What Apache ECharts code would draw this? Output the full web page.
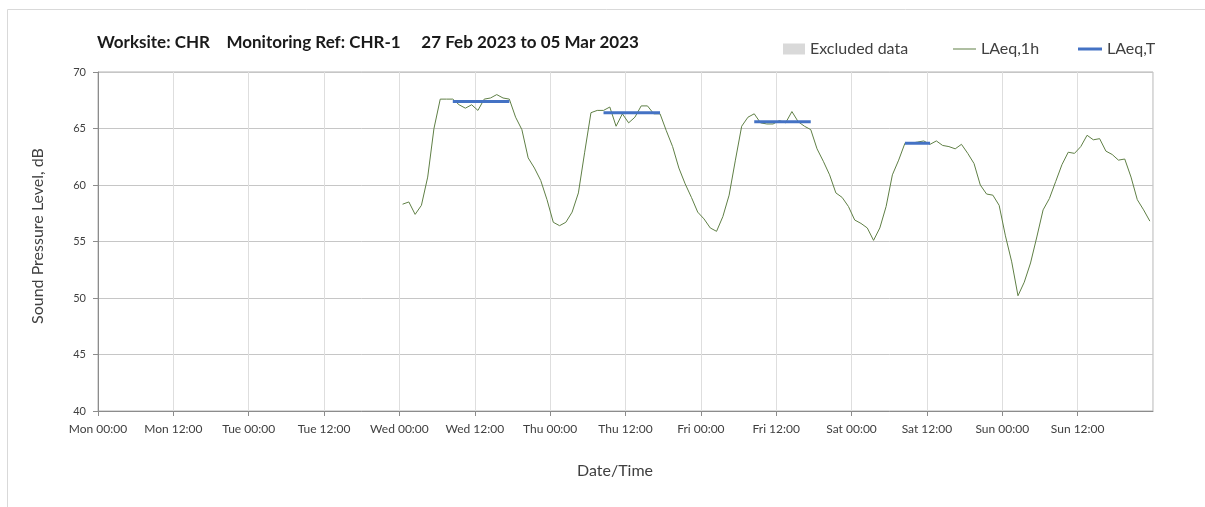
<!DOCTYPE html>
<html>
<head>
<meta charset="utf-8">
<script src="https://cdn.jsdelivr.net/npm/echarts@6/dist/echarts.min.js"></script>
<style>
  html, body { margin: 0; padding: 0; background: #fff; }
  #chart { width: 1205px; height: 507px; }
</style>
</head>
<body>
<div id="chart"></div>
<script>
  // hours counted from Mon 00:00, first hourly value sits at Wed 00:30
  var firstHour = 48.5
  var dayNames = ['Mon', 'Tue', 'Wed', 'Thu', 'Fri', 'Sat', 'Sun']
  var yTicks = [40, 45, 50, 55, 60, 65, 70]

  // LAeq,1h values (dB), one per hour
  var laeq1h = [
    58.3, 58.5, 57.4, 58.2, 60.7, 65.0, 67.6, 67.6, 67.6, 67.1, 66.8, 67.1,
    66.6, 67.6, 67.7, 68.0, 67.7, 67.6, 66.0, 64.9, 62.4, 61.5, 60.4, 58.7,
    56.7, 56.4, 56.7, 57.6, 59.3, 62.9, 66.4, 66.6, 66.6, 66.9, 65.2, 66.3,
    65.5, 66.0, 67.0, 67.0, 66.3, 66.3, 64.8, 63.4, 61.5, 60.1, 58.9, 57.6,
    57.0, 56.2, 55.9, 57.2, 59.1, 62.2, 65.2, 66.0, 66.3, 65.5, 65.4, 65.4,
    65.7, 65.5, 66.5, 65.6, 65.2, 64.9, 63.2, 62.1, 60.9, 59.3, 58.9, 58.1,
    56.9, 56.6, 56.2, 55.1, 56.2, 58.1, 60.9, 62.2, 63.7, 63.7, 63.8, 63.9,
    63.6, 63.9, 63.5, 63.4, 63.2, 63.6, 62.8, 61.9, 60.0, 59.2, 59.1, 58.2,
    55.5, 53.2, 50.2, 51.4, 53.1, 55.4, 57.8, 58.8, 60.3, 61.8, 62.9, 62.8,
    63.4, 64.4, 64.0, 64.1, 63.0, 62.7, 62.2, 62.3, 60.7, 58.7, 57.8, 56.8
  ]

  // LAeq,T periods: start hour, end hour, level
  var periodStart = [56.5, 80.5, 104.5, 128.5]
  var periodEnd = [65.5, 89.5, 113.5, 132.5]
  var periodLevel = [67.4, 66.4, 65.6, 63.7]

  var hourlyPoints = laeq1h.map(function (v, i) {
    return [firstHour + i, v]
  })

  var series = [
    {
      name: 'Excluded data',
      type: 'bar',
      data: [],
      itemStyle: { color: '#d9d9d9' }
    },
    {
      name: 'LAeq,1h',
      type: 'line',
      data: hourlyPoints,
      showSymbol: false,
      lineStyle: { color: '#5f7f45', width: 1 },
      itemStyle: { color: '#5f7f45' },
      z: 3
    }
  ]
  periodStart.forEach(function (s, i) {
    series.push({
      name: 'LAeq,T',
      type: 'line',
      data: [[s, periodLevel[i]], [periodEnd[i], periodLevel[i]]],
      showSymbol: false,
      lineStyle: { color: '#4472c4', width: 3 },
      itemStyle: { color: '#4472c4' },
      z: 4
    })
  })

  var font = 'Lato, "Open Sans", sans-serif'
  var chart = echarts.init(document.getElementById('chart'))
  chart.setOption({
    animation: false,
    textStyle: { fontFamily: font },
    graphic: [
      { type: 'line', shape: { x1: 7.5, y1: 9.5, x2: 1205, y2: 9.5 }, style: { stroke: '#d9d9d9', lineWidth: 1 } },
      { type: 'line', shape: { x1: 7.5, y1: 9.5, x2: 7.5, y2: 507 }, style: { stroke: '#d9d9d9', lineWidth: 1 } },
      {
        type: 'text', x: 97, y: 43,
        style: {
          text: 'Worksite: CHR    Monitoring Ref: CHR-1     27 Feb 2023 to 05 Mar 2023',
          font: 'bold 17px ' + font, fill: '#1a1a1a', verticalAlign: 'middle'
        }
      },
      {
        type: 'text', x: 38, y: 236, rotation: Math.PI / 2,
        style: {
          text: 'Sound Pressure Level, dB', font: '16px ' + font, fill: '#404040',
          align: 'center', verticalAlign: 'middle'
        }
      },
      {
        type: 'text', x: 615, y: 471,
        style: {
          text: 'Date/Time', font: '16px ' + font, fill: '#404040',
          align: 'center', verticalAlign: 'middle'
        }
      }
    ],
    legend: [
      {
        left: 778, top: 36, itemWidth: 22, itemHeight: 11, selectedMode: false,
        textStyle: { fontSize: 16, color: '#404040' },
        data: [{ name: 'Excluded data', icon: 'rect', itemStyle: { color: '#d9d9d9' } }]
      },
      {
        left: 948, top: 36, itemWidth: 23, itemHeight: 11, selectedMode: false,
        textStyle: { fontSize: 16, color: '#404040' },
        data: [{ name: 'LAeq,1h', icon: 'path://M0,5 L23,5 L23,6 L0,6 Z', itemStyle: { color: '#5f7f45' } }]
      },
      {
        left: 1073, top: 36, itemWidth: 24, itemHeight: 11, selectedMode: false,
        textStyle: { fontSize: 16, color: '#404040' },
        data: [{ name: 'LAeq,T', icon: 'path://M0,4 L24,4 L24,7 L0,7 Z', itemStyle: { color: '#4472c4' } }]
      }
    ],
    grid: {
      left: 98, top: 72, right: 52, bottom: 96,
      show: true, borderColor: '#b3b3b3', borderWidth: 1
    },
    xAxis: {
      type: 'value',
      min: 0,
      max: 168,
      interval: 12,
      axisLine: { show: true, lineStyle: { color: '#8c8c8c' } },
      axisTick: { show: true, length: 5, lineStyle: { color: '#8c8c8c' } },
      splitLine: { show: true, lineStyle: { color: '#dedede' } },
      axisLabel: {
        margin: 12,
        fontSize: 12,
        color: '#404040',
        showMaxLabel: false,
        formatter: function (v) {
          var d = Math.floor(v / 24)
          if (d > 6) return ''
          return dayNames[d] + (v % 24 === 0 ? ' 00:00' : ' 12:00')
        }
      }
    },
    yAxis: {
      type: 'value',
      min: yTicks[0],
      max: yTicks[yTicks.length - 1],
      interval: 5,
      axisLine: { show: true, lineStyle: { color: '#8c8c8c' } },
      axisTick: { show: true, length: 5, lineStyle: { color: '#8c8c8c' } },
      splitLine: { show: true, lineStyle: { color: '#c6c6c6' } },
      axisLabel: { margin: 12, fontSize: 11, color: '#404040' }
    },
    series: series
  })
</script>
</body>
</html>
